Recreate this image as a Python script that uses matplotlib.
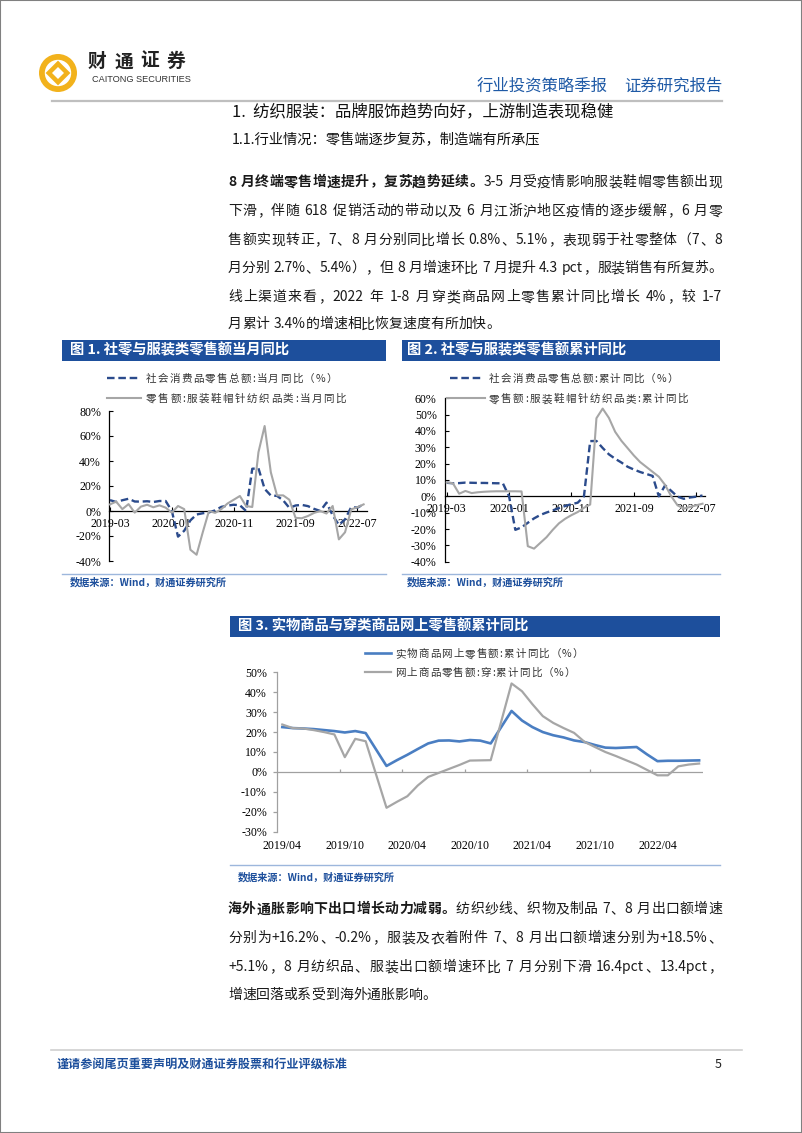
import matplotlib
matplotlib.use("Agg")
import matplotlib.pyplot as plt
import numpy as np
import pandas as pd
from matplotlib.lines import Line2D
from matplotlib.patches import Circle, Polygon, Rectangle
from matplotlib.ticker import FuncFormatter

W, H = 802, 1133
AZUL_TITULO = "#1d4f9c"
AZUL_TRACO = "#2b4b8c"
AZUL_LINHA = "#4a7ec2"
CINZA = "#a6a6a6"
OURO = "#f2b21c"
TEXTO = "#1a1a1a"

# ---- dados ----
meses = pd.period_range("2019-03", "2022-08", freq="M").strftime("%Y-%m").tolist()
rotulos_12 = ["2019-03", "2020-01", "2020-11", "2021-09", "2022-07"]

# 图1 当月同比 (%)
sl_mes = [8.7, 7.2, 8.6, 9.8, 7.6, 7.5, 7.8, 7.2, 8.0, 8.0,
          0.0, -20.5, -15.8, -7.5, -2.8, -1.8, -1.1, 0.5, 3.3, 4.3, 5.0, 4.6,
          0.0, 33.8, 34.2, 17.7, 12.4, 12.1, 8.5, 2.5, 4.4, 4.9, 3.9, 1.7,
          0.0, 6.7, -3.5, -11.1, -6.7, 3.1, 2.7, 5.4]
roupa_mes = [5.3, 7.5, 1.5, 5.5, -1.3, 3.5, 5.0, 3.0, 4.5, 2.7,
             -1.3, 4.0, 1.5, -31.0, -35.0, -17.0, 0.0, -1.5, 1.5, 6.0, 9.0, 12.0,
             4.0, 3.2, 47.0, 68.0, 31.0, 12.5, 12.5, 9.0, -5.5, -5.8, -4.0, -1.5,
             0.0, -2.0, 4.0, -22.7, -17.0, 1.3, 3.0, 5.3]

# 图2 累计同比 (%)
sl_acum = [8.3, 8.0, 8.1, 8.4, 8.3, 8.2, 8.2, 8.1, 8.0, 8.0,
           0.0, -20.5, -19.0, -16.2, -13.5, -11.4, -9.9, -8.6, -7.2, -5.9, -4.8, -3.9,
           0.0, 33.8, 33.9, 29.6, 25.7, 23.0, 20.7, 18.1, 16.4, 14.9, 13.7, 12.5,
           0.0, 6.7, 3.3, -0.2, -1.5, -0.7, -0.2, 0.5]
roupa_acum = [8.5, 8.0, 1.6, 3.3, 2.0, 2.5, 2.8, 3.0, 3.1, 3.1,
              3.1, 3.1, 3.0, -30.5, -32.0, -28.5, -25.0, -20.5, -16.5, -13.7, -11.5, -9.6,
              -7.0, -5.0, 47.8, 53.7, 48.0, 39.5, 34.0, 29.5, 25.0, 21.0, 18.0, 15.0,
              12.0, 7.0, 0.0, -5.5, -7.5, -6.5, -5.5, -4.5]

# 图3 网上零售额累计同比 (%)，无1月数据
meses_3_todos = pd.period_range("2019-04", "2022-08", freq="M").strftime("%Y-%m").tolist()
meses_3 = [m for m in meses_3_todos if not m.endswith("-01")]
online_fis = [22.5, 22.0, 21.8, 21.5, 21.0, 20.5, 19.8, 20.5, 19.5,
              3.0, 5.9, 8.6, 11.5, 14.3, 15.7, 15.8, 15.3, 16.0, 15.7, 14.3,
              30.6, 25.8, 22.5, 20.0, 18.4, 17.3, 15.8, 15.0, 13.5, 12.2, 12.0,
              12.5, 8.8, 5.4, 5.6, 5.6, 5.7, 5.8]
online_roupa = [23.8, 22.0, 21.8, 21.0, 20.0, 18.8, 7.4, 16.6, 15.4,
                -18.0, -15.0, -12.2, -6.8, -2.5, -0.5, 1.5, 3.5, 5.7, 5.8, 5.9,
                44.4, 40.5, 34.0, 28.0, 24.6, 22.0, 19.6, 15.1, 12.5, 10.0, 8.0,
                3.7, 1.0, -1.7, -1.7, 2.8, 3.7, 4.2]
rotulos_3 = ["2019/04", "2019/10", "2020/04", "2020/10", "2021/04", "2021/10", "2022/04"]

plt.rcParams["font.family"] = ["Noto Sans CJK SC", "DejaVu Sans"]
plt.rcParams["axes.unicode_minus"] = False

fig = plt.figure(figsize=(W / 100, H / 100), dpi=100)
fig.patch.set_facecolor("white")
rend = fig.canvas.get_renderer()


def fx(x):
    return x / W


def fy(y):
    return 1 - y / H


def eixo(x0, y0, x1, y1):
    return fig.add_axes([x0 / W, 1 - y1 / H, (x1 - x0) / W, (y1 - y0) / H])


def hline(x0, x1, y, cor, lw, **kw):
    fig.add_artist(Line2D([fx(x0), fx(x1)], [fy(y), fy(y)], color=cor, lw=lw,
                          transform=fig.transFigure, **kw))


def linha(x0, y, partes, tam, x1=None, cor=TEXTO):
    # escreve uma linha caractere a caractere, justificada entre x0 e x1
    em = tam * 100 / 72
    toks = []
    for txt, peso in partes:
        buf = ""
        for ch in txt:
            if ord(ch) < 128 and ch != " ":
                buf += ch
                continue
            if buf:
                toks.append((buf, peso))
                buf = ""
            toks.append((ch, peso))
        if buf:
            toks.append((buf, peso))
    itens = []
    for t, peso in toks:
        if t == " ":
            itens.append((None, em * 0.28, t))
        elif ord(t[0]) >= 128:
            itens.append((peso, em, t))
        else:
            a = fig.text(0, 0, t, fontsize=tam, fontweight=peso)
            larg = a.get_window_extent(renderer=rend).width
            a.remove()
            itens.append((peso, larg, t))
    gap = 0
    if x1 is not None and len(itens) > 1:
        gap = (x1 - x0 - sum(i[1] for i in itens)) / (len(itens) - 1)
    base = fy(y + 0.38 * em)
    x = x0
    for peso, larg, t in itens:
        if peso is not None:
            if ord(t[0]) < 128:
                fig.text(fx(x), base, t, fontsize=tam, fontweight=peso, color=cor,
                         ha="left", va="baseline")
            elif t in "，。、：；）":
                fig.text(fx(x), base, t, fontsize=tam, fontweight=peso, color=cor,
                         ha="left", va="baseline")
            elif t == "（":
                fig.text(fx(x + larg), base, t, fontsize=tam, fontweight=peso, color=cor,
                         ha="right", va="baseline")
            else:
                fig.text(fx(x + larg / 2), base, t, fontsize=tam, fontweight=peso, color=cor,
                         ha="center", va="baseline")
        x += larg + gap


# ---- moldura e cabecalho ----
fig.add_artist(Rectangle((0, 0), 1, 1, transform=fig.transFigure, fill=False,
                         ec="#808080", lw=1.5))

ax_logo = eixo(38, 53, 78, 93)
ax_logo.set_xlim(-1, 1)
ax_logo.set_ylim(-1, 1)
ax_logo.set_aspect("equal")
ax_logo.axis("off")
ax_logo.add_patch(Circle((0, 0), 0.95, fc=OURO, ec="none"))
ax_logo.add_patch(Circle((0, 0), 0.66, fc="white", ec="none"))
ax_logo.add_patch(Polygon([(0, 0.62), (0.62, 0), (0, -0.62), (-0.62, 0)], fc=OURO, ec="none"))
ax_logo.add_patch(Polygon([(0, 0.3), (0.3, 0), (0, -0.3), (-0.3, 0)], fc="white", ec="none"))

linha(88, 60, [("财通证券", "bold")], 13.5, x1=185, cor="#222222")
fig.text(fx(92), fy(80), "CAITONG SECURITIES", fontsize=6.6, color="#333333",
         family=["Liberation Sans"], va="center", ha="left")
fig.text(fx(477), fy(86), "行业投资策略季报", fontsize=11.8, color="#1f5aa6", va="center")
fig.text(fx(722), fy(86), "证券研究报告", fontsize=11.8, color="#1f5aa6", va="center", ha="right")
hline(52, 722, 101, "#bfbfbf", 1.6)

fig.text(fx(232), fy(112), "1.  纺织服装：品牌服饰趋势向好，上游制造表现稳健", fontsize=11.8,
         color="#111111", va="center")
fig.text(fx(232), fy(140), "1.1.行业情况：零售端逐步复苏，制造端有所承压", fontsize=10.3,
         color="#111111", va="center")

# ---- paragrafo 1 ----
FS = 10.0
p1 = [
    [("8 月终端零售增速提升，复苏趋势延续。", "bold"), ("3-5 月受疫情影响服装鞋帽零售额出现", "normal")],
    [("下滑，伴随 618 促销活动的带动以及 6 月江浙沪地区疫情的逐步缓解，6 月零", "normal")],
    [("售额实现转正，7、8 月分别同比增长 0.8%、5.1%，表现弱于社零整体（7、8", "normal")],
    [("月分别 2.7%、5.4%），但 8 月增速环比 7 月提升 4.3 pct，服装销售有所复苏。", "normal")],
    [("线上渠道来看，2022 年 1-8 月穿类商品网上零售累计同比增长 4%，较 1-7", "normal")],
    [("月累计 3.4%的增速相比恢复速度有所加快。", "normal")],
]
ys1 = [181, 210, 239, 267, 296, 323]
for i, (partes, y) in enumerate(zip(p1, ys1)):
    linha(228, y, partes, FS, x1=None if i == len(p1) - 1 else 722)

# ---- barras de titulo e fontes ----
def titulo(x0, x1, y0, y1, txt, xt):
    fig.add_artist(Rectangle((fx(x0), fy(y1)), (x1 - x0) / W, (y1 - y0) / H,
                             transform=fig.transFigure, fc=AZUL_TITULO, ec="none"))
    fig.text(fx(xt), fy((y0 + y1) / 2), txt, fontsize=10.3, fontweight="bold",
             color="white", va="center")


def fonte(x0, x1, yl, xt, yt):
    hline(x0, x1, yl, "#9db7dc", 1.0)
    fig.text(fx(xt), fy(yt), "数据来源：Wind，财通证券研究所", fontsize=7.3,
             fontweight="bold", color=AZUL_TITULO, va="center")


titulo(62, 386, 340, 361, "图 1. 社零与服装类零售额当月同比", 70)
titulo(402, 720, 340, 361, "图 2. 社零与服装类零售额累计同比", 407)
titulo(230, 720, 616, 637, "图 3. 实物商品与穿类商品网上零售额累计同比", 238)
fonte(62, 386, 574, 70, 582)
fonte(402, 720, 574, 407, 582)
fonte(230, 720, 865, 238, 877)

pct = FuncFormatter(lambda v, p: f"{v:.0f}%")
DASH = (3.2, 1.6)


def estilo_12(ax, lim_y, passo):
    ax.set_ylim(*lim_y)
    ax.set_yticks(np.arange(lim_y[0], lim_y[1] + 1, passo))
    ax.yaxis.set_major_formatter(pct)
    ax.set_xticks([meses.index(r) for r in rotulos_12])
    ax.set_xticklabels(rotulos_12)
    for s in ["top", "right"]:
        ax.spines[s].set_visible(False)
    ax.spines["bottom"].set_position(("data", 0))
    ax.spines["bottom"].set_linewidth(0.9)
    ax.spines["left"].set_linewidth(0.9)
    ax.tick_params(axis="x", direction="in", length=3, pad=5, labelsize=8.6,
                   labelfontfamily="Liberation Serif", width=0.8)
    ax.tick_params(axis="y", direction="in", length=3, pad=6, labelsize=8.6,
                   labelfontfamily="Liberation Serif", width=0.8)
    ax.patch.set_alpha(0)


# ---- 图1 ----
xi = np.arange(len(meses))
ax1 = eixo(109.3, 411, 366.7, 561)
ax1.plot(xi, sl_mes, color=AZUL_TRACO, lw=1.7, dashes=DASH, zorder=3)
ax1.plot(xi, roupa_mes, color=CINZA, lw=1.5, zorder=4)
ax1.set_xlim(-0.11, 41.5)
estilo_12(ax1, (-40, 80), 20)

hline(107, 141, 377.7, AZUL_TRACO, 1.7, dashes=DASH)
linha(146, 377.7, [("社会消费品零售总额:当月同比（%）", "normal")], 7.6, x1=336.7, cor="#333333")
hline(107, 141, 397.7, CINZA, 1.5)
linha(146, 397.7, [("零售额:服装鞋帽针纺织品类:当月同比", "normal")], 7.6, x1=346, cor="#333333")

# ---- 图2 ----
ax2 = eixo(445, 398.3, 705, 561.7)
ax2.plot(xi, sl_acum, color=AZUL_TRACO, lw=1.7, dashes=DASH, zorder=3)
ax2.plot(xi, roupa_acum, color=CINZA, lw=1.5, zorder=4)
ax2.set_xlim(-0.27, 41.4)
estilo_12(ax2, (-40, 60), 10)

hline(450, 483, 377.7, AZUL_TRACO, 1.7, dashes=DASH)
linha(489, 377.7, [("社会消费品零售总额:累计同比（%）", "normal")], 7.6, x1=678, cor="#333333")
hline(447, 485, 398.3, CINZA, 1.5)
linha(489, 398.3, [("零售额:服装鞋帽针纺织品类:累计同比", "normal")], 7.6, x1=688, cor="#333333")

# ---- 图3 ----
x3 = [meses_3_todos.index(m) for m in meses_3]
ax3 = eixo(277.3, 672.3, 703.3, 831.7)
ax3.axhline(0, color="#a0a0a0", lw=0.9, zorder=1)
ax3.vlines(np.arange(5.5, 40, 6), 0, 1.5, color="#a0a0a0", lw=0.9, zorder=1)
ax3.plot(x3, online_fis, color=AZUL_LINHA, lw=1.9, zorder=3)
ax3.plot(x3, online_roupa, color=CINZA, lw=1.6, zorder=4)
ax3.set_xlim(-0.48, 40.4)
ax3.set_ylim(-30, 50)
ax3.set_yticks(np.arange(-30, 51, 10))
ax3.yaxis.set_major_formatter(pct)
ax3.set_xticks([meses_3_todos.index(r.replace("/", "-")) for r in rotulos_3])
ax3.set_xticklabels(rotulos_3)
for s in ["top", "right", "bottom"]:
    ax3.spines[s].set_visible(False)
ax3.spines["left"].set_color("#a0a0a0")
ax3.spines["left"].set_linewidth(0.9)
ax3.tick_params(axis="x", length=0, pad=6, labelsize=8.6, labelfontfamily="Liberation Serif")
ax3.tick_params(axis="y", direction="out", length=3, pad=4.5, labelsize=8.6,
                labelfontfamily="Liberation Serif", color="#a0a0a0", width=0.9)
ax3.patch.set_alpha(0)

hline(365, 391, 653.3, AZUL_LINHA, 1.9)
linha(395, 653.3, [("实物商品网上零售额:累计同比（%）", "normal")], 7.6, x1=583, cor="#333333")
hline(365, 391, 671.7, CINZA, 1.6)
linha(395, 671.7, [("网上商品零售额:穿:累计同比（%）", "normal")], 7.6, x1=575, cor="#333333")

# ---- paragrafo 2 ----
p2 = [
    [("海外通胀影响下出口增长动力减弱。", "bold"), ("纺织纱线、织物及制品 7、8 月出口额增速", "normal")],
    [("分别为+16.2%、-0.2%，服装及衣着附件 7、8 月出口额增速分别为+18.5%、", "normal")],
    [("+5.1%，8 月纺织品、服装出口额增速环比 7 月分别下滑 16.4pct、13.4pct，", "normal")],
    [("增速回落或系受到海外通胀影响。", "normal")],
]
ys2 = [908, 937, 966, 994]
for i, (partes, y) in enumerate(zip(p2, ys2)):
    linha(228, y, partes, FS, x1=None if i == len(p2) - 1 else 722)

# ---- rodape ----
hline(51, 742, 1050, "#d0d0d0", 1.2)
fig.text(fx(57), fy(1065), "谨请参阅尾页重要声明及财通证券股票和行业评级标准", fontsize=8.7,
         fontweight="bold", color=AZUL_TITULO, va="center")
fig.text(fx(722), fy(1065), "5", fontsize=9, color="#222222", va="center", ha="right")

fig.savefig("out.png", dpi=100, facecolor="white")
plt.close(fig)
